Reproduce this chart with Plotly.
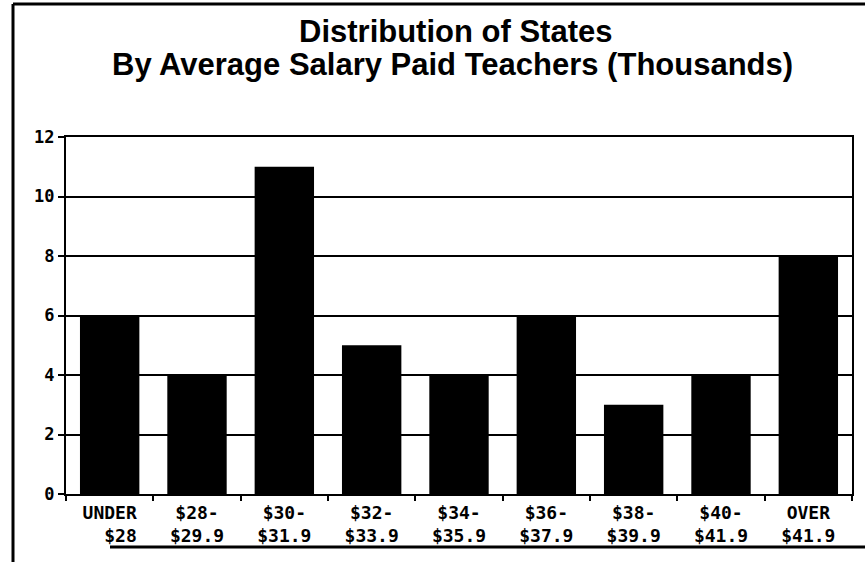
import plotly.graph_objects as go

categories = ["UNDER<br>\u00a0\u00a0$28", "$28-<br>$29.9", "$30-<br>$31.9", "$32-<br>$33.9", "$34-<br>$35.9",
              "$36-<br>$37.9", "$38-<br>$39.9", "$40-<br>$41.9", "OVER<br>$41.9"]
states = [6, 4, 11, 5, 4, 6, 3, 4, 8]
y_ticks = [0, 2, 4, 6, 8, 10, 12]
title_lines = ["Distribution of States", "By Average Salary Paid Teachers (Thousands)"]

W, H = 865, 562
L, T = 66, 137
R = W - 852
B = H - 494
pw, ph = W - L - R, H - T - B

def px_x(x):
    return (x - L) / pw

def px_y(y):
    return (H - B - y) / ph

fig = go.Figure(go.Bar(x=categories, y=states, marker=dict(color="black", line=dict(width=0))))

title_font = dict(family="Liberation Sans", size=31, color="black", weight="bold")
annotations = [
    dict(text=title_lines[0], xref="paper", yref="paper", x=px_x(455), y=px_y(32),
         xanchor="center", yanchor="middle", showarrow=False, font=title_font, borderpad=0),
    dict(text=title_lines[1], xref="paper", yref="paper", x=px_x(452), y=px_y(64),
         xanchor="center", yanchor="middle", showarrow=False, font=title_font, borderpad=0),
]

fig.update_layout(
    width=W, height=H,
    margin=dict(l=L, r=R, t=T, b=B, autoexpand=False),
    paper_bgcolor="white", plot_bgcolor="white",
    bargap=0.32,
    showlegend=False,
    annotations=annotations,
    xaxis=dict(
        automargin=False,
        showline=True, linecolor="black", linewidth=2, mirror=True,
        ticks="outside", ticklen=5, tickwidth=2, tickcolor="black",
        tickson="boundaries", showgrid=False, ticklabelstandoff=1,
        tickfont=dict(family="DejaVu Sans Mono", size=18, color="black", weight="bold"),
    ),
    yaxis=dict(
        automargin=False,
        range=[0, 12], tickvals=y_ticks,
        showline=True, linecolor="black", linewidth=2, mirror=True,
        ticks="outside", ticklen=6, tickwidth=2, tickcolor="black",
        showgrid=True, gridcolor="black", gridwidth=1.5,
        zeroline=False,
        tickfont=dict(family="DejaVu Sans Mono", size=17, color="black", weight="bold"),
    ),
    shapes=[
        dict(type="line", xref="paper", yref="paper", x0=px_x(13), x1=px_x(13), y0=px_y(4), y1=px_y(562),
             line=dict(color="black", width=3)),
        dict(type="line", xref="paper", yref="paper", x0=px_x(13), x1=px_x(865), y0=px_y(4), y1=px_y(4),
             line=dict(color="black", width=3)),
        dict(type="line", xref="paper", yref="paper", x0=px_x(110), x1=px_x(865), y0=px_y(547), y1=px_y(547),
             line=dict(color="black", width=3)),
    ],
)

fig.write_html("out.html", config={"displayModeBar": False},
               post_script="document.body.style.margin='0';document.body.style.padding='0';")
